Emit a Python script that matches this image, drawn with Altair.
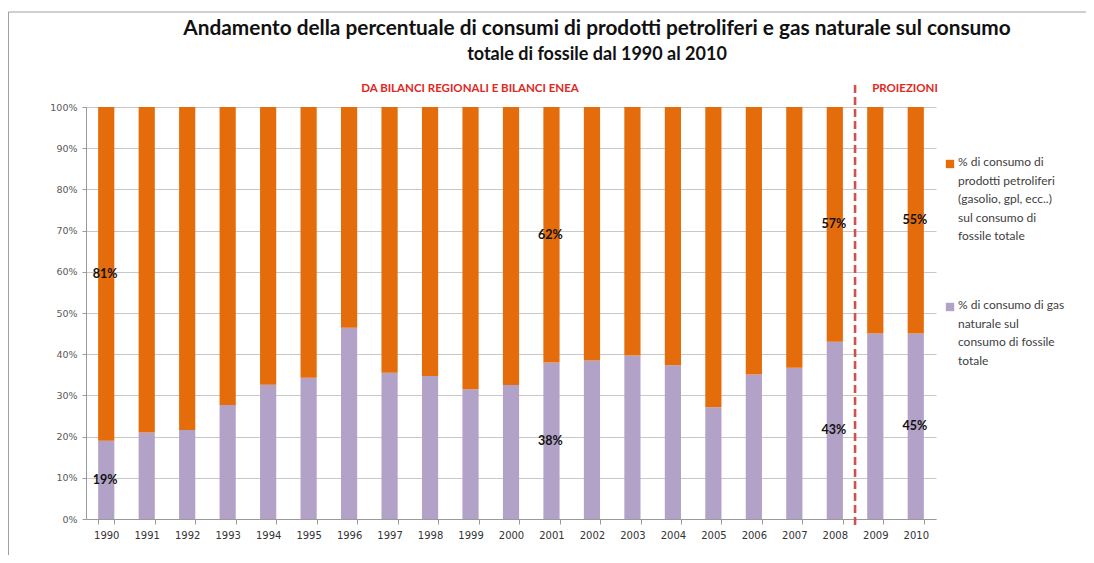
import altair as alt
import pandas as pd

# ---------------- data ----------------
years = [str(y) for y in range(1990, 2011)]
gas_pct = [19.0, 21.0, 21.6, 27.7, 32.6, 34.3, 46.4, 35.5, 34.7, 31.5, 32.5,
           38.0, 38.5, 39.7, 37.3, 27.1, 35.1, 36.7, 43.0, 45.0, 45.0]
petrol_pct = [81.0, 79.0, 78.4, 72.3, 67.4, 65.7, 53.6, 64.5, 65.3, 68.5, 67.5,
              62.0, 61.5, 60.3, 62.7, 72.9, 64.9, 63.3, 57.0, 55.0, 55.0]
series_labels = [
    "% di consumo di\nprodotti petroliferi\n(gasolio, gpl, ecc..)\nsul consumo di\nfossile totale",
    "% di consumo di gas\nnaturale sul\nconsumo di fossile\ntotale",
]
series_colors = ["#E46C0A", "#B3A2C7"]
labelled_years = ["1990", "2001", "2008", "2010"]
first_projection_year = "2009"
title_line1 = "Andamento della percentuale di consumi di prodotti petroliferi e gas naturale sul consumo"
title_line2 = "totale di fossile dal 1990 al 2010"
note_history = "DA BILANCI REGIONALI E BILANCI ENEA"
note_projection = "PROIEZIONI"
y_ticks = list(range(0, 101, 10))

# ---------------- tables ----------------
rows = []
for yr, g, p in zip(years, gas_pct, petrol_pct):
    rows.append({"year": yr, "series": series_labels[1], "value": g, "order": 0, "mid": g / 2})
    rows.append({"year": yr, "series": series_labels[0], "value": p, "order": 1, "mid": g + p / 2})
df = pd.DataFrame(rows)
df["label"] = df["value"].round().astype(int).astype(str) + "%"
df_lab = df[df["year"].isin(labelled_years)]

W, H = 850, 412
LEFT, TOP = 78, 99
STEP = W / len(years)

xscale = alt.Scale(domain=years, paddingInner=0.6, paddingOuter=0.3)
yscale = alt.Scale(domain=[0, 100])
cscale = alt.Scale(domain=series_labels, range=series_colors)

x_axis = alt.Axis(title=None, labelAngle=0, labelFont="DejaVu Sans", labelFontSize=10,
                  labelColor="#333333", tickBand="extent", tickSize=5, tickColor="#9a9a9a",
                  domainColor="#9a9a9a", labelPadding=6, grid=False)
y_axis = alt.Axis(title=None, values=y_ticks, labelExpr="datum.value + '%'",
                  labelFont="DejaVu Sans", labelFontSize=9.5, labelColor="#595959",
                  tickSize=4, tickColor="#9a9a9a", domainColor="#9a9a9a",
                  gridColor="#c8c8c8", labelPadding=5)

base = alt.Chart(df)

bars = base.mark_bar().encode(
    x=alt.X("year:N", scale=xscale, axis=x_axis, sort=years),
    y=alt.Y("value:Q", stack="zero", scale=yscale, axis=y_axis),
    color=alt.Color("series:N", scale=cscale, legend=None),
    order=alt.Order("order:Q"),
)

labels = alt.Chart(df_lab).mark_text(font="Lato", fontWeight="bold", fontSize=12.5,
                                     color="#111111", dx=-1).encode(
    x=alt.X("year:N", scale=xscale, sort=years),
    y=alt.Y("mid:Q", scale=yscale),
    text="label:N",
)

proj_rule = alt.Chart(pd.DataFrame({"year": [first_projection_year]})).mark_rule(
    color="#D0504D", strokeDash=[8, 4], strokeWidth=2.6, xOffset=-0.3 * STEP
).encode(
    x=alt.X("year:N", scale=xscale, sort=years, bandPosition=0),
    y=alt.value(-22),
    y2=alt.value(H + 6),
)

notes_df = pd.DataFrame({"note": [note_history, note_projection], "k": [0, 1]})
note1 = alt.Chart(notes_df[notes_df.k == 0]).mark_text(
    font="Lato", fontWeight="bold", fontSize=11.5, color="#E0281E"
).encode(x=alt.value(384), y=alt.value(-18), text="note:N")
note2 = alt.Chart(notes_df[notes_df.k == 1]).mark_text(
    font="Lato", fontWeight="bold", fontSize=11.5, color="#E0281E"
).encode(x=alt.value(819), y=alt.value(-18), text="note:N")

leg_df = pd.DataFrame({"series": series_labels})
leg_layers = []
for i, (sy, ty) in enumerate([(57, 50), (200, 193)]):
    d = leg_df.iloc[[i]]
    leg_layers.append(alt.Chart(d).mark_square(size=70, opacity=1).encode(
        x=alt.value(864), y=alt.value(sy),
        color=alt.Color("series:N", scale=cscale, legend=None)))
    leg_layers.append(alt.Chart(d).mark_text(
        align="left", baseline="top", lineBreak="\n", lineHeight=18.5,
        font="Lato", fontSize=12, color="#404040").encode(
        x=alt.value(872), y=alt.value(ty), text="series:N"))

frame_df = pd.DataFrame({"k": [0]})
frame_top = alt.Chart(frame_df).mark_rule(color="#a0a0a0", strokeWidth=1).encode(
    x=alt.value(-LEFT + 0.5), x2=alt.value(W + 150), y=alt.value(-TOP + 4))
frame_left = alt.Chart(frame_df).mark_rule(color="#a0a0a0", strokeWidth=1).encode(
    x=alt.value(-LEFT + 0.5), y=alt.value(-TOP + 4), y2=alt.value(H + 36))

chart = alt.layer(
    bars, labels, proj_rule, note1, note2, *leg_layers, frame_top, frame_left
).properties(
    width=W, height=H,
    title=alt.TitleParams(text=title_line1, subtitle=title_line2,
                          font="Lato", fontSize=20.8, fontWeight="bold", color="#111111",
                          subtitleFont="Lato", subtitleFontSize=18,
                          subtitleFontWeight="bold", subtitleColor="#111111",
                          subtitlePadding=5,
                          anchor="middle", frame="group", dx=86,
                          offset=-74, baseline="bottom"),
    padding={"left": LEFT, "top": TOP, "right": 150, "bottom": 36},
    autosize=alt.AutoSizeParams(type="none"),
).configure_view(stroke=None)

chart.save("out.html", embed_options={"renderer": "svg", "actions": False})
